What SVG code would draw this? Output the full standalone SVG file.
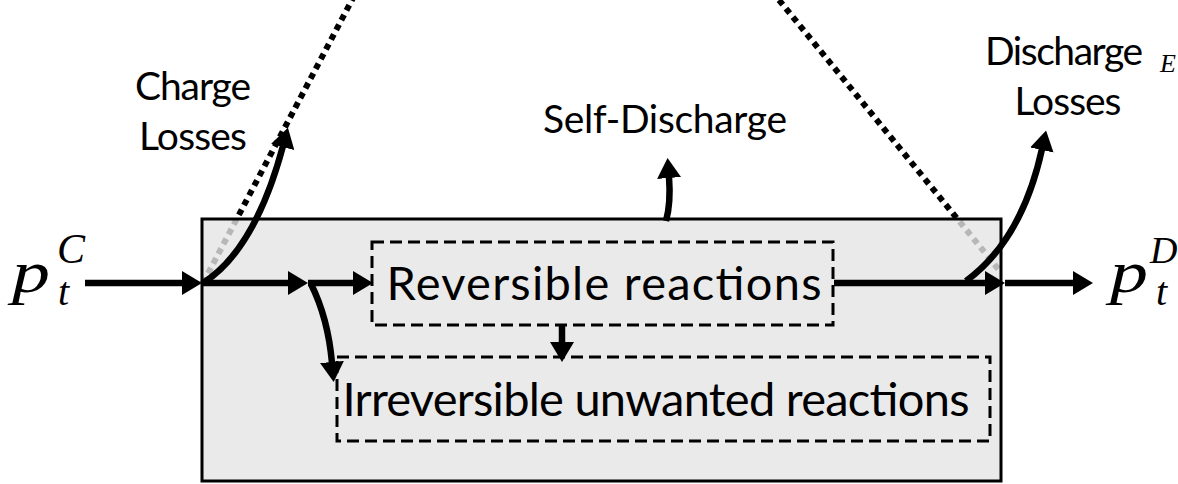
<svg xmlns="http://www.w3.org/2000/svg" width="1178" height="484" viewBox="0 0 1178 484">
  <style>
    .lbl { font-family: Lato, "Open Sans", "Liberation Sans", sans-serif; font-size: 39px; fill: #000; text-anchor: middle; }
    .big { font-family: Lato, "Open Sans", "Liberation Sans", sans-serif; font-size: 47px; fill: #000; text-anchor: middle; }
    .math { font-family: "Liberation Serif", "DejaVu Serif", serif; font-style: italic; fill: #000; }
    .flow { fill: none; stroke: #000; stroke-width: 6.5; marker-end: url(#ah); }
    .dots { fill: none; stroke: #000; stroke-width: 6; stroke-dasharray: 6 5; }
    .dash { fill: none; stroke: #000; stroke-width: 3; stroke-dasharray: 12 6; }
  </style>
  <defs>
    <marker id="ah" viewBox="0 0 20 24" refX="1" refY="12" markerWidth="20" markerHeight="24" markerUnits="userSpaceOnUse" orient="auto">
      <path d="M0,0 L20,12 L0,24 Z" fill="#000"/>
    </marker>
  </defs>

  <rect width="1178" height="484" fill="#fff"/>

  <!-- dotted guide lines, partly covered by the translucent storage box -->
  <g id="guides">
    <path class="dots" d="M203,283 L353,-2"/>
    <path class="dots" d="M779,0 L999,270"/>
  </g>

  <!-- storage unit -->
  <g id="storage">
    <rect x="202" y="219" width="799" height="262" fill="#e5e5e5" fill-opacity="0.8" stroke="#000" stroke-width="3"/>
  </g>

  <g id="reversible">
    <rect class="dash" x="372" y="242" width="461" height="83" fill="none"/>
    <text class="big" x="604" y="300" textLength="435">Reversible reactions</text>
  </g>

  <g id="irreversible">
    <rect class="dash" x="337" y="357" width="653" height="84" fill="none"/>
    <text class="big" x="656" y="416" textLength="627">Irreversible unwanted reactions</text>
  </g>

  <g id="connectors">
    <path class="flow" d="M85,283 H183"/>
    <path class="flow" d="M202,283 H289"/>
    <path class="flow" d="M308,283 H354"/>
    <path class="flow" d="M311,284 Q328,318 332,363"/>
    <path class="flow" d="M562,326 V343"/>
    <path class="flow" d="M834,283 H986"/>
    <path class="flow" d="M1005,283 H1074"/>
    <path class="flow" d="M966,281 Q1022,240 1042,149"/>
    <path class="flow" d="M203,283 Q255,250 283,146"/>
    <path class="flow" d="M666,221 Q671,203 669,177"/>
  </g>

  <g id="charge-losses">
    <text class="lbl" x="193" y="100" textLength="116">Charge</text>
    <text class="lbl" x="193" y="150" textLength="108">Losses</text>
  </g>
  <g id="self-discharge">
    <text class="lbl" x="665" y="133" textLength="244">Self-Discharge</text>
  </g>
  <g id="discharge-losses">
    <text class="lbl" x="1064" y="65" textLength="158">Discharge</text>
    <text class="lbl" x="1068" y="115" textLength="107">Losses</text>
    <text class="math" x="1160" y="72" font-size="26">E</text>
  </g>

  <g id="input">
    <text class="math" x="12" y="292" font-size="60" textLength="38" lengthAdjust="spacingAndGlyphs">p</text>
    <text class="math" x="57" y="263" font-size="42">C</text>
    <text class="math" x="58" y="305" font-size="40">t</text>
  </g>
  <g id="output">
    <text class="math" x="1110" y="292" font-size="60" textLength="38" lengthAdjust="spacingAndGlyphs">p</text>
    <text class="math" x="1150" y="263" font-size="38">D</text>
    <text class="math" x="1156" y="305" font-size="40">t</text>
  </g>
</svg>
